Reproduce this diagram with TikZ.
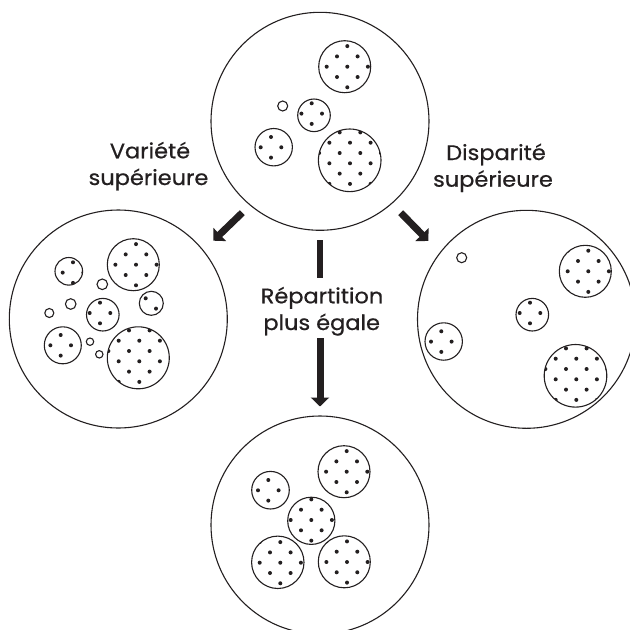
\documentclass[tikz,border=0pt]{standalone}
\usepackage{fontspec}
\setmainfont{Poppins}[FakeStretch=1.07, FakeBold=0.6]
\usetikzlibrary{arrows.meta}
\definecolor{ink}{HTML}{231F20}
\tikzset{
  panel/.style={draw=ink, line width=1.1pt, circle, minimum size=218pt, inner sep=0pt},
  ring/.style={draw=ink, line width=1.1pt},
  dot/.style={fill=ink},
  bigarrow/.style={draw=ink, line width=7pt, -{Triangle[width=18pt,length=9pt]}},
  bar/.style={draw=ink, line width=6.8pt},
  lbl/.style={text=ink, font=\fontsize{21}{27}\selectfont, anchor=base, inner sep=0pt}
}
\newcommand{\dotcirc}[5]{%
  \begin{scope}
    \clip (#1,#2) circle[radius=#3];
    \foreach \i in {-4,...,4}{
      \foreach \j in {-4,...,4}{
        \pgfmathtruncatemacro{\dpar}{mod(\i+\j+8,2)}
        \ifnum\dpar=0 \fill[dot] ({#4+\i*10.3},{#5+\j*10.3}) circle[radius=2.0]; \fi
      }
    }
  \end{scope}
  \draw[ring] (#1,#2) circle[radius=#3];
}
\newcommand{\emptycirc}[3]{\draw[ring] (#1,#2) circle[radius=#3];}
\begin{document}
\begin{tikzpicture}[x=1pt,y=-1pt]
\useasboundingbox (0,0) rectangle (630,630);
\clip (0,0) rectangle (630,630);
\fill[white] (0,0) rectangle (630,630);

% outer panels
\node[panel] (top) at (320,121.3) {};
\node[panel] (left) at (118.3,319) {};
\node[panel] (right) at (526.5,319.3) {};
\node[panel] (bottom) at (320,525) {};

% top panel
\dotcirc{344.7}{66.7}{26}{347.3}{66.7}
\dotcirc{314}{115.3}{16.3}{311.7}{103.3}
\dotcirc{273.7}{147.2}{18.7}{271}{137}
\dotcirc{349.7}{160.3}{31.3}{350}{142.7}
\emptycirc{282.7}{106}{5}

% left panel
\dotcirc{133.3}{264.7}{26}{136}{264.7}
\dotcirc{68.8}{271.3}{13.8}{62.7}{272.6}
\dotcirc{151.3}{303.3}{12}{145.7}{298.3}
\dotcirc{102.8}{314.7}{16.3}{100}{302.7}
\dotcirc{62.8}{345.3}{18.5}{60.7}{335}
\dotcirc{138.3}{357.8}{31}{139.3}{340.7}
\emptycirc{102.3}{284.3}{5.3}
\emptycirc{70.7}{304}{5.3}
\emptycirc{49.3}{313}{4.5}
\emptycirc{90}{341.7}{3.7}
\emptycirc{99.3}{354.3}{3.7}

% right panel
\emptycirc{461.7}{257.7}{5}
\dotcirc{585.3}{271.3}{26}{588.3}{271.3}
\dotcirc{532.3}{314.7}{16.3}{530}{302.7}
\dotcirc{443.7}{341.5}{18.7}{441.3}{331.3}
\dotcirc{575.5}{375.8}{31.3}{576.3}{358.7}

% bottom panel
\dotcirc{270.5}{490.2}{18.8}{268.3}{480}
\dotcirc{344}{471.7}{26}{346.7}{471.7}
\dotcirc{311.3}{520.8}{23.6}{311.3}{520}
\dotcirc{277.8}{562.3}{26.2}{280.3}{562.7}
\dotcirc{344.3}{561.8}{26}{347}{562}

% arrows
\coordinate (la1) at (242.3,212.7);
\coordinate (la2) at (213.3,240.7);
\coordinate (ra1) at (400.7,212.7);
\coordinate (ra2) at (428.3,241);
\coordinate (cb1) at (320,240);
\coordinate (cb2) at (320,278.3);
\coordinate (ca1) at (320,338.3);
\coordinate (ca2) at (320,406.5);
\draw[bigarrow] (la1) -- (la2);
\draw[bigarrow] (ra1) -- (ra2);
\draw[bar] (cb1) -- (cb2);
\draw[bigarrow] (ca1) -- (ca2);

% labels
\node[lbl] (v1) at (150,158.3) {Variété};
\node[lbl] (v2) at (148.5,185) {supérieure};
\node[lbl] (d1) at (496,160) {Disparité};
\node[lbl] (d2) at (493,186.7) {supérieure};
\node[lbl] (r1) at (322,303.3) {Répartition};
\node[lbl] (r2) at (321.7,330) {plus égale};
\end{tikzpicture}
\end{document}
